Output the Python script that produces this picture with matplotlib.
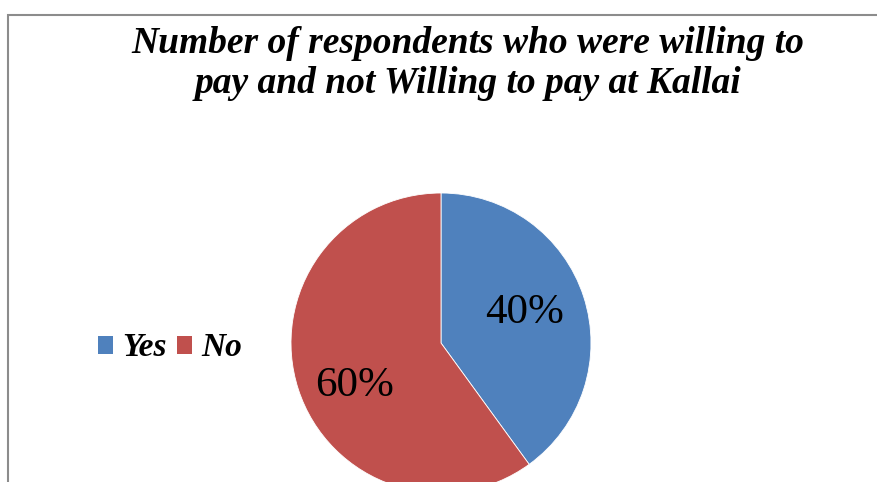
import numpy as np
import matplotlib
matplotlib.use("Agg")
import matplotlib.pyplot as plt
from matplotlib.patches import Rectangle, Patch

categories = ["Yes", "No"]
shares = [40, 60]
colors = ["#4F81BD", "#C0504D"]
title = "Number of respondents who were willing to\npay and not Willing to pay at Kallai"

W, H = 877, 482
CX, CY, R = 441, H - 343, 150

fig = plt.figure(figsize=(W / 100, H / 100), dpi=100)
ax = fig.add_axes([0, 0, 1, 1])
ax.set_xlim(0, W)
ax.set_ylim(0, H)
ax.axis("off")

# chart frame (partly outside the canvas)
ax.add_patch(Rectangle((8, -20), W + 20, H - 15 + 20, fill=False,
                       edgecolor="#8C8C8C", linewidth=1.5, zorder=0))

wedges, texts, autotexts = ax.pie(
    shares, colors=colors, startangle=90, counterclock=False,
    center=(CX, CY), radius=R,
    autopct=lambda p: f"{p:.0f}%", pctdistance=0.62,
    wedgeprops=dict(linewidth=0.6, edgecolor="white"),
    textprops=dict(family="Liberation Serif", fontsize=31, color="black"),
)
# nudge the percentage labels slightly
for w, t, dist, (dx, dy) in zip(wedges, autotexts, [0.60, 0.66], [(0, -2), (6, -7)]):
    ang = np.deg2rad((w.theta1 + w.theta2) / 2 + 3)
    t.set_position((CX + dist * R * np.cos(ang) + dx, CY + dist * R * np.sin(ang) + dy))
ax.set_xlim(0, W)
ax.set_ylim(0, H)

ax.text(468, H - 26, title, ha="center", va="top",
        family="Liberation Serif", fontweight="bold", fontstyle="italic",
        fontsize=27, linespacing=1.17)

handles = [Patch(facecolor=c) for c in colors]
fig.legend(handles, categories, loc="center left",
           bbox_to_anchor=(98 / W, 1 - 348 / H), ncol=2, frameon=False,
           prop=dict(family="Liberation Serif", weight="bold", style="italic", size=24),
           handlelength=0.45, handleheight=0.45, handletextpad=0.28,
           columnspacing=0.3, borderpad=0, borderaxespad=0)

fig.savefig("out.png", dpi=100)
